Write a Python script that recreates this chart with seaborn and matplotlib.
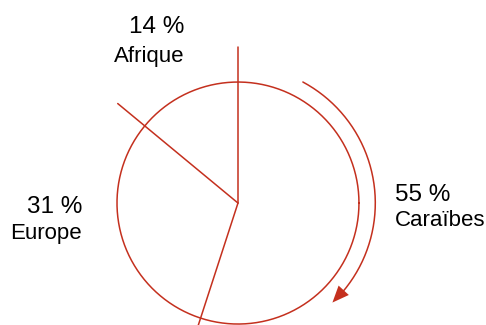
import numpy as np
import seaborn as sns
import matplotlib.pyplot as plt

# Data
regions = ["Afrique", "Europe", "Caraïbes"]
shares = [14, 31, 55]
# label anchor (x, baseline of value, baseline of name) and alignment
labels_pos = [(-0.44, 1.402, 1.168), (-1.29, -0.085, -0.300), (1.298, 0.015, -0.190)]
labels_ha = ["right", "right", "left"]

red = "#C4301E"

sns.set_style("white")
plt.rcParams['font.family'] = ['Liberation Sans', 'DejaVu Sans']

fig = plt.figure(figsize=(4.86, 3.25), dpi=100)
ax = fig.add_axes([0, 0, 1, 1])

# circle
t = np.linspace(0, 2 * np.pi, 400)
ax.plot(np.cos(t), np.sin(t), color=red, lw=1.1)

# radial separators, counterclockwise from the top
cum = np.cumsum([0] + shares[:-1])
for c in cum:
    ang = np.pi / 2 + 2 * np.pi * c / 100
    ax.plot([0, 1.29 * np.cos(ang)], [0, 1.29 * np.sin(ang)], color=red, lw=1.1)

# curved arrow for the biggest share
a = np.linspace(np.deg2rad(61.8), np.deg2rad(-40), 200)
ax.plot(1.135 * np.cos(a), 1.135 * np.sin(a), color=red, lw=1.1)
tip = np.deg2rad(-46.5)
base = np.deg2rad(-38)
ax.annotate("", xy=(1.134 * np.cos(tip), 1.134 * np.sin(tip)),
            xytext=(1.135 * np.cos(base), 1.135 * np.sin(base)),
            arrowprops=dict(arrowstyle="-|>,head_length=1.2,head_width=0.5",
                            color=red, lw=0, shrinkA=0, shrinkB=0))

# labels
for name, val, (x, y1, y2), ha in zip(regions, shares, labels_pos, labels_ha):
    ax.text(x, y1, f"{val} %", ha=ha, va="baseline", fontsize=17.5, color="black")
    ax.text(x, y2, name, ha=ha, va="baseline", fontsize=16, color="black")

ax.set_xlim(-1.967, 2.05)
ax.set_ylim(-1.008, 1.678)
ax.axis("off")

fig.savefig("out.png", dpi=100)
